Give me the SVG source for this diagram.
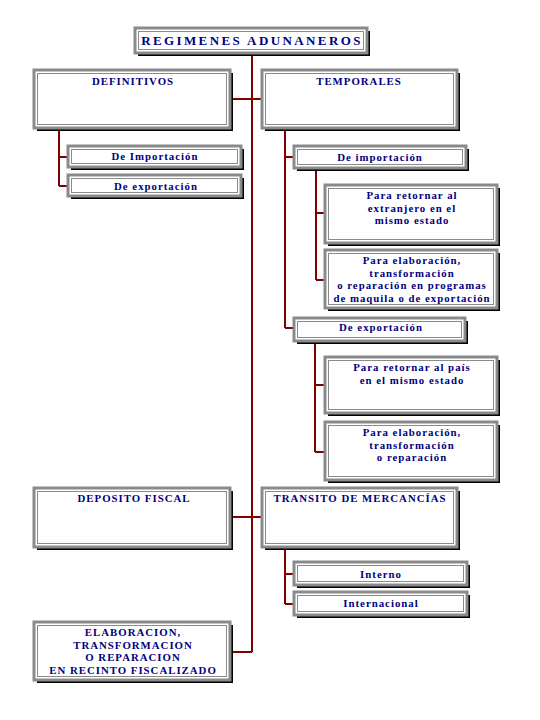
<svg xmlns="http://www.w3.org/2000/svg" width="540" height="720" viewBox="0 0 540 720">
<style>
.sh{fill:#000}
.bx{fill:#fff;stroke:#8a8a8a;stroke-width:3}
.in{fill:none;stroke:#8a8a8a;stroke-width:1}
.t{font-family:"Liberation Serif","Times New Roman",serif;font-weight:bold;font-size:10.8px;letter-spacing:1px;fill:#000080;text-anchor:middle}
.ttl{font-size:13px;letter-spacing:2.4px}
.c{fill:none;stroke:#800000;stroke-width:2}
</style>
<rect width="540" height="720" fill="#fff"/>
<g id="connectors">
<path class="c" d="M252,53 V652 M230,99 H263 M230,517 H263 M230,652 H252"/>
<path class="c" d="M59,128 V186 M59,157 H68 M59,186 H68"/>
<path class="c" d="M285,128 V328 M285,157 H294 M285,328 H294"/>
<path class="c" d="M316,168 V280 M316,213 H325 M316,280 H325"/>
<path class="c" d="M315,341 V452 M315,385 H325 M315,452 H325"/>
<path class="c" d="M285,547 V604 M285,574 H294 M285,604 H294"/>
</g>
<g id="n-title">
<rect class="sh" x="138" y="31" width="232" height="25"/>
<rect class="bx" x="135" y="28" width="232" height="25"/>
<rect class="in" x="138.5" y="31.5" width="225" height="18"/>
<text class="t ttl" x="252" y="45">REGIMENES ADUNANEROS</text>
</g>
<g id="n-definitivos">
<rect class="sh" x="37" y="73" width="196" height="58"/>
<rect class="bx" x="34" y="70" width="196" height="58"/>
<rect class="in" x="37.5" y="73.5" width="189" height="51"/>
<text class="t" x="133" y="85">DEFINITIVOS</text>
</g>
<g id="n-temporales">
<rect class="sh" x="265" y="73" width="195" height="58"/>
<rect class="bx" x="262" y="70" width="195" height="58"/>
<rect class="in" x="265.5" y="73.5" width="188" height="51"/>
<text class="t" x="359" y="85">TEMPORALES</text>
</g>
<g id="n-def-imp">
<rect class="sh" x="71" y="149" width="173" height="21"/>
<rect class="bx" x="68" y="146" width="173" height="21"/>
<rect class="in" x="71.5" y="149.5" width="166" height="14"/>
<text class="t" x="155" y="160">De Importación</text>
</g>
<g id="n-def-exp">
<rect class="sh" x="71" y="178" width="173" height="21"/>
<rect class="bx" x="68" y="175" width="173" height="21"/>
<rect class="in" x="71.5" y="178.5" width="166" height="14"/>
<text class="t" x="156" y="190">De exportación</text>
</g>
<g id="n-tem-imp">
<rect class="sh" x="297" y="149" width="172" height="22"/>
<rect class="bx" x="294" y="146" width="172" height="22"/>
<rect class="in" x="297.5" y="149.5" width="165" height="15"/>
<text class="t" x="380" y="161">De importación</text>
</g>
<g id="n-imp-retornar">
<rect class="sh" x="328" y="188" width="172" height="58"/>
<rect class="bx" x="325" y="185" width="172" height="58"/>
<rect class="in" x="328.5" y="188.5" width="165" height="51"/>
<text class="t" x="412" y="199">Para retornar al</text>
<text class="t" x="412" y="211.5">extranjero en el</text>
<text class="t" x="412" y="224">mismo estado</text>
</g>
<g id="n-imp-elab">
<rect class="sh" x="328" y="253" width="172" height="58"/>
<rect class="bx" x="325" y="250" width="172" height="58"/>
<rect class="in" x="328.5" y="253.5" width="165" height="51"/>
<text class="t" x="412" y="264">Para elaboración,</text>
<text class="t" x="412" y="276.5">transformación</text>
<text class="t" x="412" y="289">o reparación en programas</text>
<text class="t" x="412" y="301.5">de maquila o de exportación</text>
</g>
<g id="n-tem-exp">
<rect class="sh" x="297" y="321" width="171" height="23"/>
<rect class="bx" x="294" y="318" width="171" height="23"/>
<rect class="in" x="297.5" y="321.5" width="164" height="16"/>
<text class="t" x="381" y="331">De exportación</text>
</g>
<g id="n-exp-retornar">
<rect class="sh" x="328" y="360" width="172" height="56"/>
<rect class="bx" x="325" y="357" width="172" height="56"/>
<rect class="in" x="328.5" y="360.5" width="165" height="49"/>
<text class="t" x="412" y="371">Para retornar al país</text>
<text class="t" x="412" y="383.5">en el mismo estado</text>
</g>
<g id="n-exp-elab">
<rect class="sh" x="328" y="425" width="172" height="58"/>
<rect class="bx" x="325" y="422" width="172" height="58"/>
<rect class="in" x="328.5" y="425.5" width="165" height="51"/>
<text class="t" x="412" y="436">Para elaboración,</text>
<text class="t" x="412" y="448.5">transformación</text>
<text class="t" x="412" y="461">o reparación</text>
</g>
<g id="n-deposito">
<rect class="sh" x="37" y="491" width="196" height="59"/>
<rect class="bx" x="34" y="488" width="196" height="59"/>
<rect class="in" x="37.5" y="491.5" width="189" height="52"/>
<text class="t" x="134" y="502">DEPOSITO FISCAL</text>
</g>
<g id="n-transito">
<rect class="sh" x="265" y="491" width="195" height="59"/>
<rect class="bx" x="262" y="488" width="195" height="59"/>
<rect class="in" x="265.5" y="491.5" width="188" height="52"/>
<text class="t" x="360" y="502">TRANSITO DE MERCANCÍAS</text>
</g>
<g id="n-interno">
<rect class="sh" x="297" y="565" width="173" height="23"/>
<rect class="bx" x="294" y="562" width="173" height="23"/>
<rect class="in" x="297.5" y="565.5" width="166" height="16"/>
<text class="t" x="381" y="578">Interno</text>
</g>
<g id="n-internacional">
<rect class="sh" x="297" y="595" width="173" height="23"/>
<rect class="bx" x="294" y="592" width="173" height="23"/>
<rect class="in" x="297.5" y="595.5" width="166" height="16"/>
<text class="t" x="381" y="607">Internacional</text>
</g>
<g id="n-elaboracion">
<rect class="sh" x="37" y="625" width="196" height="58"/>
<rect class="bx" x="34" y="622" width="196" height="58"/>
<rect class="in" x="37.5" y="625.5" width="189" height="51"/>
<text class="t" x="133" y="636">ELABORACION,</text>
<text class="t" x="133" y="648.5">TRANSFORMACION</text>
<text class="t" x="133" y="661">O REPARACION</text>
<text class="t" x="133" y="673.5">EN RECINTO FISCALIZADO</text>
</g>
</svg>
